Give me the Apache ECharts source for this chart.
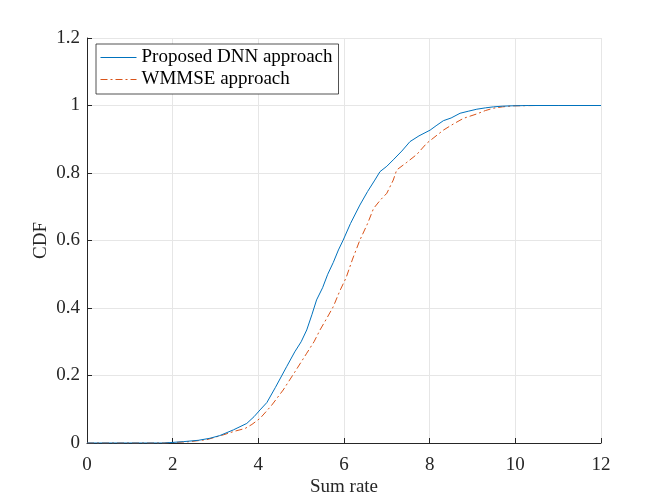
<!DOCTYPE html>
<html>
<head>
<meta charset="utf-8">
<script src="https://cdn.jsdelivr.net/npm/echarts@6/dist/echarts.min.js"></script>
<style>
html,body{margin:0;padding:0;background:#fff;}
#chart{width:664px;height:498px;}
</style>
</head>
<body>
<div id="chart"></div>
<script>
var seriesNames = ['Proposed DNN approach', 'WMMSE approach'];
var xTicks = [0, 2, 4, 6, 8, 10, 12];
var yTicks = [0, 0.2, 0.4, 0.6, 0.8, 1, 1.2];

var dnnX = [0, 1.8, 2.25, 2.6, 2.87, 3.1, 3.42, 3.73, 3.9, 4.04, 4.2, 4.4, 4.66, 4.85, 5.0, 5.13, 5.25, 5.36, 5.5, 5.62, 5.75, 5.87, 5.98, 6.15, 6.37, 6.55, 6.72, 6.84, 7.0, 7.15, 7.35, 7.54, 7.75, 8.01, 8.15, 8.32, 8.5, 8.71, 8.9, 9.1, 9.3, 9.49, 9.7, 9.9, 10.3, 11, 12];
var dnnY = [0, 0, 0.004, 0.008, 0.014, 0.022, 0.039, 0.058, 0.078, 0.098, 0.12, 0.165, 0.226, 0.27, 0.3, 0.335, 0.38, 0.424, 0.46, 0.5, 0.535, 0.572, 0.601, 0.65, 0.705, 0.745, 0.779, 0.804, 0.82, 0.839, 0.865, 0.893, 0.91, 0.927, 0.94, 0.955, 0.963, 0.977, 0.983, 0.989, 0.993, 0.996, 0.998, 0.999, 1, 1, 1];

var wmmseX = [0, 1.8, 2.4, 2.8, 3.18, 3.45, 3.69, 3.85, 4.04, 4.3, 4.58, 4.85, 5.13, 5.3, 5.44, 5.6, 5.75, 5.9, 6.05, 6.2, 6.37, 6.55, 6.69, 6.85, 7.0, 7.15, 7.23, 7.45, 7.7, 7.93, 8.1, 8.32, 8.55, 8.79, 9.1, 9.3, 9.49, 9.7, 9.95, 10.5, 11, 12];
var wmmseY = [0, 0, 0.004, 0.01, 0.024, 0.035, 0.043, 0.055, 0.073, 0.11, 0.157, 0.21, 0.266, 0.3, 0.335, 0.37, 0.404, 0.45, 0.49, 0.545, 0.601, 0.65, 0.695, 0.72, 0.74, 0.779, 0.809, 0.83, 0.855, 0.888, 0.905, 0.927, 0.945, 0.962, 0.975, 0.985, 0.992, 0.996, 0.999, 1, 1, 1];

function pairs(xs, ys) { return xs.map(function (x, i) { return [x, ys[i]]; }); }

var font = '"Liberation Serif", "Times New Roman", serif';
var textColor = '#262626';

var chart = echarts.init(document.getElementById('chart'), null, {renderer: 'canvas'});
chart.setOption({
  animation: false,
  backgroundColor: '#ffffff',
  grid: {left: 87, right: 63, top: 38, bottom: 55, containLabel: false, outerBoundsMode: 'none'},
  legend: {
    orient: 'vertical',
    left: 96, top: 44,
    padding: [4, 6, 5, 4],
    itemGap: 3,
    itemWidth: 36, itemHeight: 20,
    backgroundColor: '#ffffff',
    borderColor: '#262626', borderWidth: 0.8, borderRadius: 0,
    itemStyle: {opacity: 0},
    lineStyle: {width: 1},
    textStyle: {fontFamily: font, fontSize: 19, color: '#000'},
    data: seriesNames
  },
  xAxis: {
    type: 'value', min: 0, max: 12, interval: 2,
    name: 'Sum rate', nameLocation: 'middle', nameGap: 35, nameMoveOverlap: false,
    nameTextStyle: {fontFamily: font, fontSize: 19, color: textColor},
    axisLine: {show: true, onZero: false, lineStyle: {color: '#262626', width: 1}},
    axisTick: {show: true, inside: true, length: 5, lineStyle: {color: '#262626'}},
    axisLabel: {fontFamily: font, fontSize: 19, color: textColor, margin: 13,
      formatter: function (v) { return xTicks.indexOf(v) >= 0 ? String(v) : ''; }},
    splitLine: {show: true, lineStyle: {color: '#e6e6e6', width: 1}}
  },
  yAxis: {
    type: 'value', min: 0, max: 1.2, interval: 0.2,
    name: 'CDF', nameLocation: 'middle', nameGap: 36, nameRotate: 90, nameMoveOverlap: false,
    nameTextStyle: {fontFamily: font, fontSize: 19, color: textColor},
    axisLine: {show: true, onZero: false, lineStyle: {color: '#262626', width: 1}},
    axisTick: {show: true, inside: true, length: 5, lineStyle: {color: '#262626'}},
    axisLabel: {fontFamily: font, fontSize: 19, color: textColor, margin: 7,
      formatter: function (v) {
        var r = Math.round(v * 10) / 10;
        return yTicks.indexOf(r) >= 0 ? String(r) : '';
      }},
    splitLine: {show: true, lineStyle: {color: '#e6e6e6', width: 1}}
  },
  series: [
    {
      name: seriesNames[0], type: 'line', data: pairs(dnnX, dnnY),
      showSymbol: false, symbol: 'none', smooth: false,
      lineStyle: {color: '#0072BD', width: 1},
      itemStyle: {color: '#0072BD'}, z: 3
    },
    {
      name: seriesNames[1], type: 'line', data: pairs(wmmseX, wmmseY),
      showSymbol: false, symbol: 'none', smooth: false,
      lineStyle: {color: '#D95319', width: 1, type: [7, 3, 2, 3]},
      itemStyle: {color: '#D95319'}, z: 2
    }
  ]
});
</script>
</body>
</html>
